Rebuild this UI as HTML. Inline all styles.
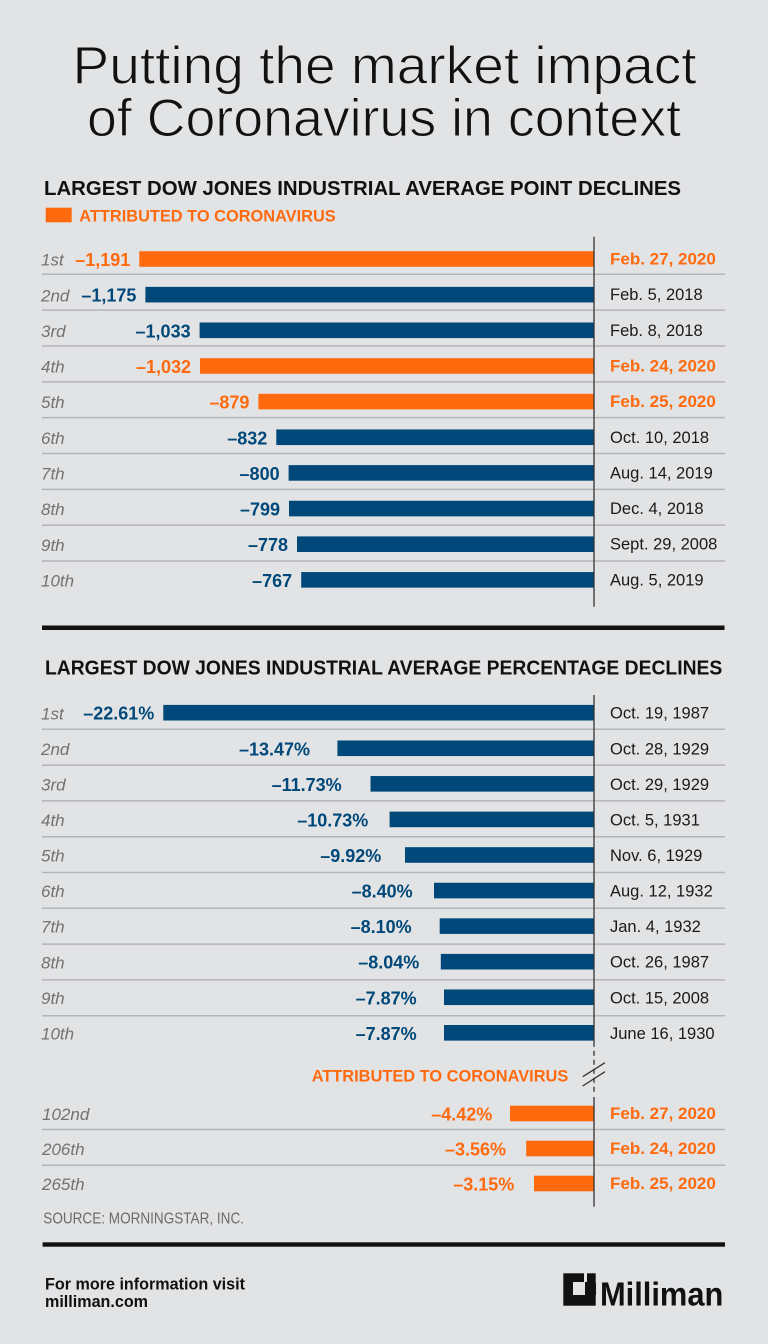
<!DOCTYPE html>
<html>
<head>
<meta charset="utf-8">
<style>
  html,body{margin:0;padding:0;background:#e2e3e5;}
  svg{display:block;}
  .lab{font-family:"Liberation Sans",sans-serif;font-style:italic;font-size:17px;fill:#727272;}
  .valb{font-family:"Liberation Sans",sans-serif;font-weight:bold;font-size:18px;fill:#00487a;text-anchor:end;}
  .valo{font-family:"Liberation Sans",sans-serif;font-weight:bold;font-size:18px;fill:#ff6a0e;text-anchor:end;}
  .dt{font-family:"Liberation Sans",sans-serif;font-size:16.5px;fill:#1a1a1a;}
  .dto{font-family:"Liberation Sans",sans-serif;font-weight:bold;font-size:17px;fill:#ff6a0e;}
  .hd{font-family:"Liberation Sans",sans-serif;font-weight:bold;font-size:20px;fill:#111;}
  .leg{font-family:"Liberation Sans",sans-serif;font-weight:bold;font-size:17px;fill:#ff6a0e;}
  .ttl{font-family:"Liberation Sans",sans-serif;font-size:53px;fill:#111;stroke:#e2e3e5;stroke-width:1;}
</style>
</head>
<body>
<svg width="768" height="1344" viewBox="0 0 768 1344" xmlns="http://www.w3.org/2000/svg">
  <rect x="0" y="0" width="768" height="1344" fill="#e2e3e5"/>

  <!-- Title -->
  <text class="ttl" x="72.5" y="83.3" textLength="624" lengthAdjust="spacingAndGlyphs">Putting the market impact</text>
  <text class="ttl" x="87" y="136" textLength="594" lengthAdjust="spacingAndGlyphs">of Coronavirus in context</text>

  <!-- Top heading -->
  <text class="hd" x="44" y="195" textLength="637" lengthAdjust="spacingAndGlyphs">LARGEST DOW JONES INDUSTRIAL AVERAGE POINT DECLINES</text>
  <rect x="45.7" y="207.7" width="26" height="14.6" fill="#ff6a0e"/>
  <text class="leg" x="79.3" y="221.7" textLength="256.4" lengthAdjust="spacingAndGlyphs">ATTRIBUTED TO CORONAVIRUS</text>

  <!-- Top chart separators -->
  <g stroke="#b4b5b7" stroke-width="1.5">
    <line x1="42" x2="725" y1="274.3" y2="274.3"/>
    <line x1="42" x2="725" y1="310.14" y2="310.14"/>
    <line x1="42" x2="725" y1="345.98" y2="345.98"/>
    <line x1="42" x2="725" y1="381.82" y2="381.82"/>
    <line x1="42" x2="725" y1="417.66" y2="417.66"/>
    <line x1="42" x2="725" y1="453.5" y2="453.5"/>
    <line x1="42" x2="725" y1="489.34" y2="489.34"/>
    <line x1="42" x2="725" y1="525.18" y2="525.18"/>
    <line x1="42" x2="725" y1="561.02" y2="561.02"/>
  </g>

  <!-- Top chart bars -->
  <rect x="139.3" y="251.2" width="454.7" height="15.6" fill="#ff6a0e"/>
  <rect x="145.4" y="286.85" width="448.6" height="15.6" fill="#00487a"/>
  <rect x="199.6" y="322.5" width="394.4" height="15.6" fill="#00487a"/>
  <rect x="200" y="358.15" width="394" height="15.6" fill="#ff6a0e"/>
  <rect x="258.4" y="393.8" width="335.6" height="15.6" fill="#ff6a0e"/>
  <rect x="276.3" y="429.45" width="317.7" height="15.6" fill="#00487a"/>
  <rect x="288.6" y="465.1" width="305.4" height="15.6" fill="#00487a"/>
  <rect x="289" y="500.75" width="305" height="15.6" fill="#00487a"/>
  <rect x="297" y="536.4" width="297" height="15.6" fill="#00487a"/>
  <rect x="301.2" y="572.05" width="292.8" height="15.6" fill="#00487a"/>

  <!-- Top axis -->
  <line x1="594" x2="594" y1="236.7" y2="606.7" stroke="#333" stroke-width="1.3"/>

  <!-- Top labels -->
  <text class="lab" x="41" y="265.6">1st</text>
  <text class="lab" x="41" y="301.25">2nd</text>
  <text class="lab" x="41" y="336.9">3rd</text>
  <text class="lab" x="41" y="372.55">4th</text>
  <text class="lab" x="41" y="408.2">5th</text>
  <text class="lab" x="41" y="443.85">6th</text>
  <text class="lab" x="41" y="479.5">7th</text>
  <text class="lab" x="41" y="515.15">8th</text>
  <text class="lab" x="41" y="550.8">9th</text>
  <text class="lab" x="41" y="586.45">10th</text>

  <!-- Top values -->
  <text class="valo" x="130.3" y="266">–1,191</text>
  <text class="valb" x="136.4" y="301.65">–1,175</text>
  <text class="valb" x="190.6" y="337.3">–1,033</text>
  <text class="valo" x="191" y="372.95">–1,032</text>
  <text class="valo" x="249.4" y="408.6">–879</text>
  <text class="valb" x="267.3" y="444.25">–832</text>
  <text class="valb" x="279.6" y="479.9">–800</text>
  <text class="valb" x="280" y="515.55">–799</text>
  <text class="valb" x="288" y="551.2">–778</text>
  <text class="valb" x="292.2" y="586.85">–767</text>

  <!-- Top dates -->
  <text class="dto" x="610" y="264.5">Feb. 27, 2020</text>
  <text class="dt" x="610" y="300.15">Feb. 5, 2018</text>
  <text class="dt" x="610" y="335.8">Feb. 8, 2018</text>
  <text class="dto" x="610" y="371.45">Feb. 24, 2020</text>
  <text class="dto" x="610" y="407.1">Feb. 25, 2020</text>
  <text class="dt" x="610" y="442.75">Oct. 10, 2018</text>
  <text class="dt" x="610" y="478.4">Aug. 14, 2019</text>
  <text class="dt" x="610" y="514.05">Dec. 4, 2018</text>
  <text class="dt" x="610" y="549.7">Sept. 29, 2008</text>
  <text class="dt" x="610" y="585.35">Aug. 5, 2019</text>

  <!-- Thick separator -->
  <rect x="42" y="625.5" width="682.5" height="4.5" fill="#111"/>

  <!-- Bottom heading -->
  <text class="hd" x="45" y="674.3" textLength="677.3" lengthAdjust="spacingAndGlyphs">LARGEST DOW JONES INDUSTRIAL AVERAGE PERCENTAGE DECLINES</text>

  <!-- Bottom separators -->
  <g stroke="#b4b5b7" stroke-width="1.5">
    <line x1="42" x2="725" y1="729.3" y2="729.3"/>
    <line x1="42" x2="725" y1="765.1" y2="765.1"/>
    <line x1="42" x2="725" y1="800.9" y2="800.9"/>
    <line x1="42" x2="725" y1="836.7" y2="836.7"/>
    <line x1="42" x2="725" y1="872.5" y2="872.5"/>
    <line x1="42" x2="725" y1="908.3" y2="908.3"/>
    <line x1="42" x2="725" y1="944.1" y2="944.1"/>
    <line x1="42" x2="725" y1="979.9" y2="979.9"/>
    <line x1="42" x2="725" y1="1015.7" y2="1015.7"/>
    <line x1="42" x2="725" y1="1129.5" y2="1129.5"/>
    <line x1="42" x2="725" y1="1165.3" y2="1165.3"/>
  </g>

  <!-- Bottom bars -->
  <rect x="163.3" y="704.9" width="430.7" height="15.6" fill="#00487a"/>
  <rect x="337.4" y="740.47" width="256.6" height="15.6" fill="#00487a"/>
  <rect x="370.5" y="776.04" width="223.5" height="15.6" fill="#00487a"/>
  <rect x="389.6" y="811.61" width="204.4" height="15.6" fill="#00487a"/>
  <rect x="405" y="847.18" width="189" height="15.6" fill="#00487a"/>
  <rect x="434" y="882.75" width="160" height="15.6" fill="#00487a"/>
  <rect x="439.7" y="918.32" width="154.3" height="15.6" fill="#00487a"/>
  <rect x="440.8" y="953.89" width="153.2" height="15.6" fill="#00487a"/>
  <rect x="444" y="989.46" width="150" height="15.6" fill="#00487a"/>
  <rect x="444" y="1025.03" width="150" height="15.6" fill="#00487a"/>

  <rect x="510" y="1105.7" width="84" height="15.6" fill="#ff6a0e"/>
  <rect x="526.2" y="1140.7" width="67.8" height="15.6" fill="#ff6a0e"/>
  <rect x="534" y="1175.7" width="60" height="15.6" fill="#ff6a0e"/>

  <!-- Bottom axis -->
  <line x1="594" x2="594" y1="695" y2="1041.7" stroke="#333" stroke-width="1.3"/>
  <line x1="594" x2="594" y1="1041.7" y2="1093" stroke="#333" stroke-width="1.3" stroke-dasharray="5 4"/>
  <line x1="594" x2="594" y1="1097" y2="1206.7" stroke="#333" stroke-width="1.3"/>
  <line x1="582.7" y1="1076.7" x2="605" y2="1062.7" stroke="#333" stroke-width="1.3"/>
  <line x1="582.7" y1="1086" x2="605" y2="1071.7" stroke="#333" stroke-width="1.3"/>

  <!-- Bottom labels -->
  <text class="lab" x="41" y="719.3">1st</text>
  <text class="lab" x="41" y="754.87">2nd</text>
  <text class="lab" x="41" y="790.44">3rd</text>
  <text class="lab" x="41" y="826.01">4th</text>
  <text class="lab" x="41" y="861.58">5th</text>
  <text class="lab" x="41" y="897.15">6th</text>
  <text class="lab" x="41" y="932.72">7th</text>
  <text class="lab" x="41" y="968.29">8th</text>
  <text class="lab" x="41" y="1003.86">9th</text>
  <text class="lab" x="41" y="1039.43">10th</text>
  <text class="lab" x="42" y="1120.1">102nd</text>
  <text class="lab" x="42" y="1155.1">206th</text>
  <text class="lab" x="42" y="1190.1">265th</text>

  <!-- Bottom values -->
  <text class="valb" x="154.3" y="719.7">–22.61%</text>
  <text class="valb" x="310" y="755.27">–13.47%</text>
  <text class="valb" x="341.7" y="790.84">–11.73%</text>
  <text class="valb" x="368.3" y="826.41">–10.73%</text>
  <text class="valb" x="381.3" y="861.98">–9.92%</text>
  <text class="valb" x="412.7" y="897.55">–8.40%</text>
  <text class="valb" x="411.7" y="933.12">–8.10%</text>
  <text class="valb" x="419.3" y="968.69">–8.04%</text>
  <text class="valb" x="416.7" y="1004.26">–7.87%</text>
  <text class="valb" x="416.7" y="1039.83">–7.87%</text>
  <text class="valo" x="492.3" y="1120.5">–4.42%</text>
  <text class="valo" x="506" y="1155.5">–3.56%</text>
  <text class="valo" x="514.3" y="1190.5">–3.15%</text>

  <!-- Bottom dates -->
  <text class="dt" x="610" y="718.7">Oct. 19, 1987</text>
  <text class="dt" x="610" y="754.27">Oct. 28, 1929</text>
  <text class="dt" x="610" y="789.84">Oct. 29, 1929</text>
  <text class="dt" x="610" y="825.41">Oct. 5, 1931</text>
  <text class="dt" x="610" y="860.98">Nov. 6, 1929</text>
  <text class="dt" x="610" y="896.55">Aug. 12, 1932</text>
  <text class="dt" x="610" y="932.12">Jan. 4, 1932</text>
  <text class="dt" x="610" y="967.69">Oct. 26, 1987</text>
  <text class="dt" x="610" y="1003.26">Oct. 15, 2008</text>
  <text class="dt" x="610" y="1038.83">June 16, 1930</text>
  <text class="dto" x="610" y="1119">Feb. 27, 2020</text>
  <text class="dto" x="610" y="1154">Feb. 24, 2020</text>
  <text class="dto" x="610" y="1189">Feb. 25, 2020</text>

  <!-- Corona label -->
  <text class="leg" x="311.7" y="1081.7" textLength="256.6" lengthAdjust="spacingAndGlyphs">ATTRIBUTED TO CORONAVIRUS</text>

  <!-- Source -->
  <text x="43.3" y="1223.3" font-family="Liberation Sans, sans-serif" font-size="16" fill="#6b6b6b" textLength="200.7" lengthAdjust="spacingAndGlyphs">SOURCE: MORNINGSTAR, INC.</text>

  <!-- Bottom separator -->
  <rect x="42.6" y="1242.3" width="682.4" height="4.4" fill="#111"/>

  <!-- Footer -->
  <text x="45" y="1289.3" font-family="Liberation Sans, sans-serif" font-weight="bold" font-size="17" fill="#111" textLength="200" lengthAdjust="spacingAndGlyphs">For more information visit</text>
  <text x="45" y="1307" font-family="Liberation Sans, sans-serif" font-weight="bold" font-size="17" fill="#111" textLength="103" lengthAdjust="spacingAndGlyphs">milliman.com</text>

  <!-- Milliman logo -->
  <rect x="563.3" y="1273.3" width="32.4" height="32.4" fill="#111"/>
  <rect x="573" y="1282" width="12" height="13" fill="#e2e3e5"/>
  <rect x="584" y="1273" width="3" height="9" fill="#e2e3e5"/>
  <polygon points="585,1295 596,1295 596,1283" fill="#111"/>
  <text x="600" y="1305.7" font-family="Liberation Sans, sans-serif" font-weight="bold" font-size="33" fill="#111" textLength="123.3" lengthAdjust="spacingAndGlyphs">Milliman</text>
</svg>
</body>
</html>
